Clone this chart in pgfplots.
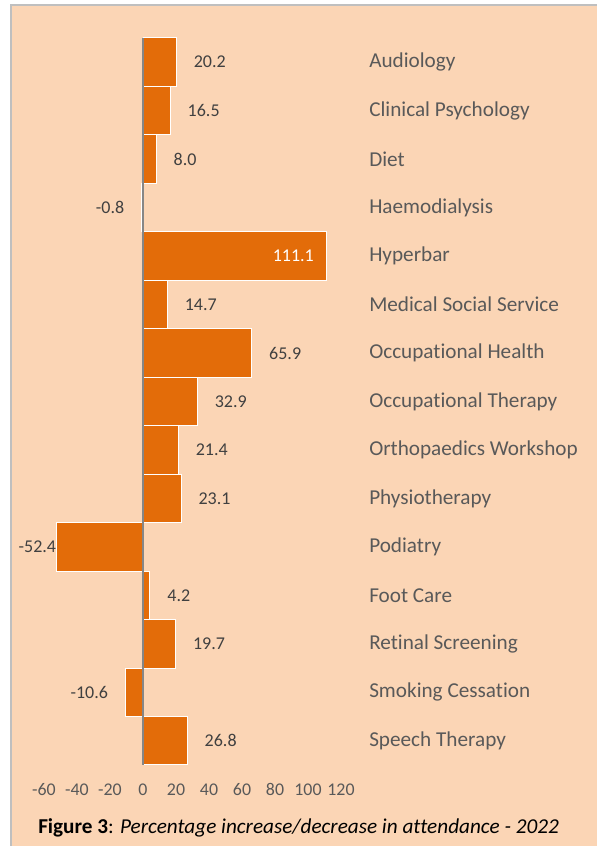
\documentclass[border=0pt]{standalone}
\usepackage{pgfplots}
\pgfplotsset{compat=1.18}
\usepackage{fontspec}
\setmainfont{Carlito}[Ligatures={NoCommon}]
\definecolor{bgpeach}{HTML}{FBD5B5}
\definecolor{barorange}{HTML}{E36C09}
\definecolor{labgray}{HTML}{404040}
\definecolor{catgray}{HTML}{595959}
\definecolor{framegray}{HTML}{BFBFBF}
\definecolor{zerogray}{HTML}{868686}
\begin{document}
\begin{tikzpicture}[x=0.75pt,y=0.75pt]
\useasboundingbox (0,0) rectangle (597,846);
\fill[white] (0,0) rectangle (597,846);
\fill[bgpeach] (11,0) rectangle (597,841);
\draw[framegray, line width=1.5pt] (11,0) -- (11,841) -- (597,841);
\begin{axis}[
  at={(33pt,60.75pt)}, anchor=south west,
  scale only axis, width=222.75pt, height=545.25pt,
  xmin=-60, xmax=120, ymin=0.5, ymax=15.5,
  xtick={-60,-40,-20,0,20,40,60,80,100,120},
  xticklabels={-60,-40,-20,0,20,40,60,80,100,120},
  xticklabel style={font=\fontsize{13.4}{15}\selectfont, text=catgray, anchor=base, inner sep=0pt, yshift=-22.9pt},
  ytick={1,...,15},
  yticklabels={Speech Therapy, Smoking Cessation, Retinal Screening, Foot Care, Podiatry, Physiotherapy, Orthopaedics Workshop, Occupational Therapy, Occupational Health, Medical Social Service, Hyperbar, Haemodialysis, Diet, Clinical Psychology, Audiology},
  yticklabel pos=right,
  yticklabel style={font=\fontsize{15.9}{18}\selectfont, text=catgray, anchor=west, inner sep=0pt, xshift=21pt},
  axis line style={draw=none}, major tick length=0pt,
  xbar, bar width=1, bar shift=0pt,
  clip=false,
  nodes near coords, point meta=explicit symbolic,
  every node near coord/.append style={font=\fontsize{13.5}{16}\selectfont, text=labgray, inner sep=0pt},
]
\addplot[xbar, fill=barorange, draw=white, line width=0.75pt,
  every node near coord/.append style={anchor=west, xshift=12.75pt}]
  coordinates {(20.2,15) [20.2] (16.5,14) [16.5] (8.0,13) [8.0] (14.7,10) [14.7]
  (65.9,9) [65.9] (32.9,8) [32.9] (21.4,7) [21.4] (23.1,6) [23.1] (4.2,4) [4.2]
  (19.7,3) [19.7] (26.8,1) [26.8]};
\addplot[xbar, fill=barorange, draw=white, line width=0.75pt,
  every node near coord/.append style={anchor=east, xshift=-12.75pt}]
  coordinates {(-0.8,12) [-0.8] (-10.6,2) [-10.6]};
\addplot[xbar, fill=barorange, draw=white, line width=0.75pt,
  every node near coord/.append style={anchor=east, xshift=0pt}]
  coordinates {(-52.4,5) [-52.4]};
\addplot[xbar, fill=barorange, draw=white, line width=0.75pt,
  every node near coord/.append style={anchor=east, xshift=-9pt, text=white}]
  coordinates {(111.1,11) [111.1]};
\draw[zerogray, line width=1.5pt] (axis cs:0,0.5) -- (axis cs:0,15.5);
\end{axis}
\node[font=\fontsize{15.9}{18}\selectfont, text=black] at (298.5,18) {\textbf{Figure 3}: \textit{Percentage increase/decrease in attendance - 2022}};
\end{tikzpicture}
\end{document}
